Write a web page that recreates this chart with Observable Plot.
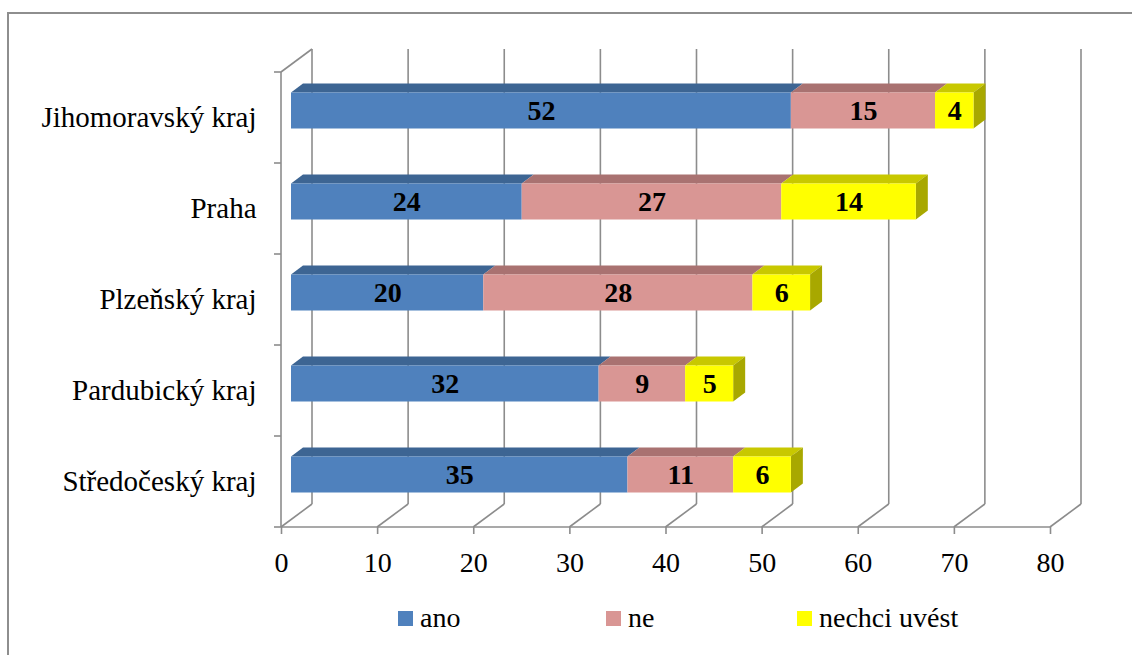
<!DOCTYPE html>
<html><head><meta charset="utf-8">
<script src="https://cdn.jsdelivr.net/npm/d3@7"></script>
<script src="https://cdn.jsdelivr.net/npm/@observablehq/plot@0.6"></script>
<style>
body{margin:0;background:#fff;width:1132px;height:655px;overflow:hidden;position:relative;}
#frame{position:absolute;left:7px;top:12px;width:1200px;height:700px;border:2px solid #8e8e8e;box-sizing:border-box;}
#chart{position:absolute;left:0;top:0;}
#legend{position:absolute;left:0;top:0;width:1132px;height:655px;}
.sw{position:absolute;width:15px;height:15px;top:611px;}
.lt{position:absolute;top:603px;line-height:30px;white-space:nowrap;font-family:'Liberation Serif';font-size:28px;color:#000;}
</style></head><body>
<div id="frame"></div>
<div id="chart"></div>
<div id="legend"></div>
<script>
// ---- data ----
const regions = ["Jihomoravský kraj", "Praha", "Plzeňský kraj", "Pardubický kraj", "Středočeský kraj"];
const series = ["ano", "ne", "nechci uvést"];
const ano = [52, 24, 20, 32, 35];
const ne = [15, 27, 28, 9, 11];
const nechci = [4, 14, 6, 5, 6];
const xTicks = [0, 10, 20, 30, 40, 50, 60, 70, 80];

// ---- styles ----
const colors = ["#4f81bd", "#d99694", "#ffff00"];
const topColors = ["#3d6593", "#a97271", "#c8c800"];
const sideColors = ["#325279", "#8c5e5d", "#a8a800"];
const gridColor = "#8c8c8c";
const font = "Liberation Serif";

const seriesValues = [ano, ne, nechci];
const segments = [];
regions.forEach((r, i) => {
  let acc = 0;
  series.forEach((s, j) => {
    const v = seriesValues[j][i];
    segments.push({region: r, series: s, si: j, value: v, x1: acc, x2: acc + v, last: j === series.length - 1});
    acc += v;
  });
});

const DX = 31, DY = -23;   // wall depth
const BDX = 10, BDY = -7;  // bar front-face offset
const TDX = 12, TDY = -9;  // bar depth
const BAR_H = 36;

function stepOf(y) { return y(regions[1]) - y(regions[0]); }

function walls(index, scales) {
  const x = scales.x, y = scales.y;
  const g = d3.create("svg:g").attr("fill", "none").attr("stroke", gridColor).attr("stroke-width", 1.6);
  const step = stepOf(y);
  const y0 = y(regions[0]);
  const y1 = y(regions[regions.length - 1]) + step;
  const x0 = x(xTicks[0]);
  const xe = x(xTicks[xTicks.length - 1]);
  g.append("line").attr("x1", x0).attr("x2", xe).attr("y1", y1).attr("y2", y1);
  g.append("line").attr("x1", x0).attr("x2", x0).attr("y1", y0).attr("y2", y1);
  g.append("line").attr("x1", x0).attr("x2", x0 + DX).attr("y1", y0).attr("y2", y0 + DY);
  const bounds = regions.map(r => y(r)).concat([y1]);
  for (const b of bounds) g.append("line").attr("x1", x0 - 7).attr("x2", x0).attr("y1", b).attr("y2", b);
  for (const t of xTicks) {
    const xp = x(t);
    g.append("line").attr("x1", xp).attr("x2", xp + DX).attr("y1", y1).attr("y2", y1 + DY);
    g.append("line").attr("x1", xp + DX).attr("x2", xp + DX).attr("y1", y1 + DY).attr("y2", y0 + DY);
  }
  return g.node();
}

function faces(index, scales) {
  const x = scales.x, y = scales.y;
  const step = stepOf(y);
  const g = d3.create("svg:g");
  for (const d of segments) {
    const yc = y(d.region) + step / 2 + BDY;
    const yt = yc - BAR_H / 2, yb = yc + BAR_H / 2;
    const xa = x(d.x1) + BDX, xb = x(d.x2) + BDX;
    g.append("polygon")
      .attr("points", [[xa, yt], [xb, yt], [xb + TDX, yt + TDY], [xa + TDX, yt + TDY]].map(p => p.join(",")).join(" "))
      .attr("fill", topColors[d.si]);
    if (d.last) {
      g.append("polygon")
        .attr("points", [[xb, yt], [xb + TDX, yt + TDY], [xb + TDX, yb + TDY], [xb, yb]].map(p => p.join(",")).join(" "))
        .attr("fill", sideColors[d.si]);
    }
  }
  return g.node();
}

const chart = Plot.plot({
  width: 1132,
  height: 580,
  marginLeft: 281,
  marginRight: 82,
  marginTop: 72,
  marginBottom: 53,
  style: {fontFamily: font, background: "transparent"},
  x: {domain: [0, 80], label: null},
  y: {type: "band", domain: regions, padding: 0, label: null},
  color: {domain: series, range: colors},
  marks: [
    walls,
    faces,
    Plot.barX(segments, {
      x1: "x1", x2: "x2", y: "region", fill: "series",
      dx: BDX, dy: BDY, insetTop: 27.5, insetBottom: 27.5
    }),
    Plot.text(segments, {
      x: d => (d.x1 + d.x2) / 2, y: "region", text: d => String(d.value),
      dx: BDX, dy: BDY, fontWeight: "bold", fontSize: 28, fill: "#000", fontFamily: font
    }),
    Plot.axisX({ticks: xTicks, tickSize: 7, tickPadding: 18, fontSize: 28, fontFamily: font, stroke: gridColor, fill: "#000", label: null, strokeWidth: 1.6}),
    Plot.axisY({tickSize: 0, tickPadding: 25, fontSize: 29, fontFamily: font, fill: "#000", label: null})
  ]
});
document.getElementById("chart").appendChild(chart);

// ---- legend ----
const legend = document.getElementById("legend");
const legendLeft = [398, 606, 797];
series.forEach((s, j) => {
  const sw = document.createElement("div");
  sw.className = "sw";
  sw.style.left = legendLeft[j] + "px";
  sw.style.background = colors[j];
  legend.appendChild(sw);
  const t = document.createElement("div");
  t.className = "lt";
  t.style.left = (legendLeft[j] + 22) + "px";
  t.style.fontFamily = "'Liberation Serif', serif";
  t.textContent = s;
  legend.appendChild(t);
});
</script>
</body></html>
